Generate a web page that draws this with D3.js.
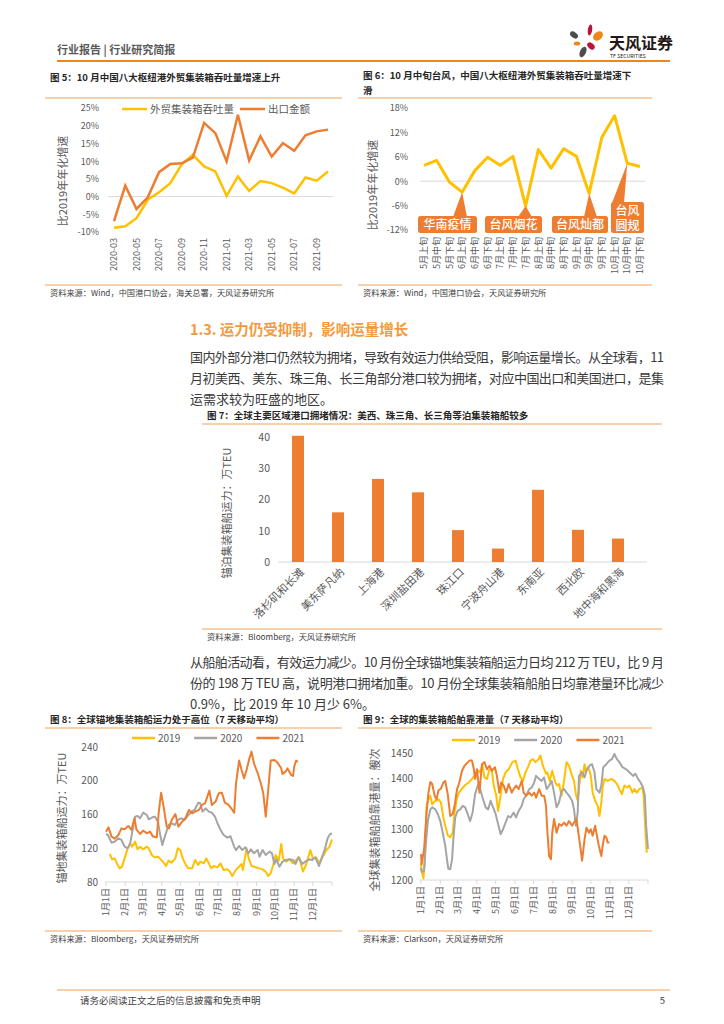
<!DOCTYPE html>
<html>
<head>
<meta charset="utf-8">
<script src="https://cdn.jsdelivr.net/npm/d3@7"></script>
<style>
body { margin: 0; background: #fff; }
svg { font-family: "Noto Sans CJK SC", "Noto Sans", sans-serif; }
.figTitle { font-size: 9.5px; font-weight: bold; fill: #262626; }
.source { font-size: 8.2px; fill: #404040; }
.rule { stroke: #F7C08F; stroke-width: 1.5; }
.axisText text, .axisText { font-size: 9px; fill: #595959; }
.big text { font-size: 10px; }
.yTitle { font-size: 11px; fill: #595959; }
.legend { font-size: 10px; fill: #595959; }
.body { font-size: 13px; fill: #3a3a3a; }
.note { font-size: 12px; fill: #fff; font-weight: 500; }
</style>
</head>
<body>
<svg id="page" width="724" height="1024"></svg>
<script>
// fig 5: monthly growth vs 2019 (%)
const fig5Months = ["2020-03", "2020-04", "2020-05", "2020-06", "2020-07", "2020-08", "2020-09", "2020-10", "2020-11", "2020-12",
    "2021-01", "2021-02", "2021-03", "2021-04", "2021-05", "2021-06", "2021-07", "2021-08", "2021-09", "2021-10"]
const fig5Throughput = [-8.8, -8.4, -6.1, -0.9, 1.2, 3.8, 9.0, 11.8, 8.5, 7.1, 0.2, 5.7, 1.6, 4.4, 3.8, 2.5, 0.9, 5.4, 4.5, 7.1]
const fig5Export = [-6.9, 3.1, -3.5, -0.2, 6.9, 9.2, 9.4, 11.0, 20.8, 17.9, 9.9, 23.1, 10.2, 17.0, 11.3, 15.1, 12.9, 17.3, 18.4, 18.9]
const fig5Ticks = [-10, -5, 0, 5, 10, 15, 20, 25]

// fig 6: ten-day growth vs 2019 (%)
const fig6Periods = ["5月上旬", "5月中旬", "5月下旬", "6月上旬", "6月中旬", "6月下旬", "7月上旬", "7月中旬", "7月下旬",
    "8月上旬", "8月中旬", "8月下旬", "9月上旬", "9月中旬", "9月下旬", "10月上旬", "10月中旬", "10月下旬"]
const fig6Growth = [3.9, 5.1, -0.2, -2.7, 2.6, 5.9, 3.9, 6.1, -6.1, 7.8, 3.2, 8.0, 6.1, -3.0, 10.8, 16.1, 4.4, 3.6]
const fig6Ticks = [-12, -6, 0, 6, 12, 18]
const fig6EventNames = [["华南疫情"], ["台风烟花"], ["台风灿都"], ["台风", "圆规"]]
const fig6EventPeriods = ["6月上旬", "7月下旬", "9月中旬", "10月中旬"]

// fig 7: anchored container ship capacity (万TEU)
const fig7Ports = ["洛杉矶和长滩", "美东萨凡纳", "上海港", "深圳盐田港", "珠江口", "宁波舟山港", "东南亚", "西北欧", "地中海和黑海"]
const fig7Capacity = [40.4, 15.9, 26.6, 22.3, 10.2, 4.3, 23.1, 10.3, 7.5]
const fig7Ticks = [0, 10, 20, 30, 40]

const monthStartDays = [0, 31, 59, 90, 120, 151, 181, 212, 243, 273, 304, 334]
const monthLabels = ["1月1日", "2月1日", "3月1日", "4月1日", "5月1日", "6月1日", "7月1日", "8月1日", "9月1日", "10月1日", "11月1日", "12月1日"]
const yearNames = ["2019", "2020", "2021"]

// fig 8: anchored capacity, 7-day avg (万TEU), day of year
const fig8Days2019 = [6, 10, 14, 18, 22, 26, 30, 35, 39, 42, 47, 51, 55, 60, 66, 69, 74, 78, 84, 87, 93, 97, 101, 106, 112, 116, 120, 124, 128, 133,
    139, 144, 149, 152, 158, 162, 166, 170, 174, 180, 185, 190, 196, 200, 204, 209, 215, 219, 221, 227, 230, 235, 242, 247, 253, 258, 262, 266, 270, 274,
    279, 283, 286, 291, 296, 302, 307, 312, 318, 323, 330, 334, 339, 345, 350, 356, 361, 365]
const fig8Vals2019 = [113.2, 106.9, 108, 101.3, 96.2, 98.2, 108, 119.9, 125.8, 121.9, 127.8, 118.7, 121.9, 118.7, 121.9, 119.9, 112, 109.2, 110, 108,
    102.9, 99, 105.3, 102.9, 108, 119.9, 117.9, 108, 101.3, 96.2, 96.2, 106.1, 100.2, 104.1, 102.2, 108, 102.2, 96.2, 99, 97.4,
    102.1, 94.2, 95, 92.3, 87.1, 93.4, 98.2, 101.3, 94.2, 119.9, 109.2, 99, 97.4, 96.2, 95, 92.3, 87.1, 90.3, 100.2, 112,
    105.3, 125.1, 108, 104.1, 106.9, 102.2, 106.1, 109.2, 92.3, 100.2, 117.9, 108, 109.2, 102.2, 110, 117.9, 121.9, 130.6]
const fig8Days2020 = [0, 3, 9, 14, 20, 25, 30, 35, 39, 42, 47, 51, 55, 60, 66, 69, 75, 79, 84, 87, 91, 95, 101, 106, 111, 116, 121, 127, 132, 138,
    143, 149, 152, 156, 161, 166, 171, 176, 180, 185, 190, 196, 201, 207, 210, 215, 220, 225, 230, 234, 239, 245, 248, 253, 258, 264, 268, 272, 275, 280,
    285, 291, 296, 302, 306, 311, 317, 322, 328, 333, 338, 344, 348, 353, 358, 362, 365]
const fig8Vals2020 = [136.9, 135.7, 126.6, 127.8, 131.8, 129.8, 121.9, 119.9, 125.8, 137.7, 157.5, 158.3, 155.5, 162.2, 159.4, 154.3, 156.7, 157.5, 151.5, 137.7,
    123.9, 133.8, 147.6, 149.6, 147.6, 153.5, 155.5, 153.5, 158.3, 163.4, 165.4, 174.1, 173.3, 163.4, 167.3, 163.4, 162.2, 157.5, 149.6, 141.7,
    135.7, 132.6, 134.2, 121.9, 117.9, 122.7, 117.9, 121.1, 114, 118.7, 114, 117.9, 110, 117.9, 112, 116, 114, 101.3, 106.9, 98.2,
    104.1, 106.1, 106.9, 106.1, 101.3, 109.2, 101.3, 104.1, 106.9, 106.1, 109.2, 99, 108, 117.9, 131.8, 136.9, 137.7]
const fig8Days2021 = [0, 4, 9, 14, 20, 25, 30, 36, 41, 46, 49, 55, 60, 66, 71, 76, 82, 85, 89, 93, 98, 102, 106, 112, 117, 123, 128, 134, 139, 144,
    150, 155, 160, 167, 171, 177, 182, 187, 192, 198, 204, 207, 210, 215, 219, 223, 227, 231, 235, 239, 245, 250, 254, 258, 262, 266, 272, 277, 283, 285,
    290, 293, 299, 302, 304, 307, 310]
const fig8Vals2021 = [139.7, 144.8, 133.8, 131.4, 135.7, 143.6, 142.5, 146.4, 141.7, 155.5, 142.5, 136.9, 140.9, 137.7, 139.7, 133.8, 133, 161.4, 185.9, 169.3,
    145.6, 143.6, 153.5, 160.6, 145.6, 151.5, 155.5, 165.4, 161.4, 163.4, 165.4, 171.3, 173.3, 188.3, 171.3, 175.3, 185.1, 185.9, 174.1, 171.3,
    165.4, 162.2, 197, 223.9, 212.8, 202.9, 212.8, 224.7, 234.5, 220.7, 208.9, 197, 185.1, 157.5, 189.1, 223.9, 224.7, 221.5, 214.8, 208.1,
    210.8, 214.8, 206.9, 205.7, 216.8, 223.9, 222.7]
const fig8Ticks = [80, 120, 160, 200, 240]

// fig 9: port calls, 7-day avg (艘次), day of year
const fig9Days2019 = [0, 1, 4, 6, 9, 12, 15, 18, 23, 28, 32, 36, 39, 43, 47, 51, 54, 58, 61, 66, 71, 77, 82, 87, 93, 95, 99, 102, 106, 110,
    114, 117, 121, 124, 128, 132, 136, 141, 147, 152, 156, 160, 164, 168, 173, 176, 180, 184, 189, 192, 196, 201, 203, 207, 211, 216, 219, 222, 226, 230,
    234, 238, 243, 246, 249, 252, 254, 257, 260, 263, 265, 268, 271, 273, 276, 280, 284, 287, 290, 292, 295, 300, 306, 311, 315, 319, 323, 327, 331, 335,
    340, 343, 347, 351, 356, 358, 361, 363]
const fig9Vals2019 = [1234, 1218, 1203, 1241, 1346, 1359, 1366, 1349, 1356, 1359, 1353, 1323, 1307, 1288, 1284, 1293, 1333, 1362, 1372, 1380,
    1387, 1392, 1399, 1407, 1415, 1412, 1425, 1402, 1399, 1418, 1415, 1386, 1366, 1336, 1366, 1399, 1412, 1418, 1432, 1435,
    1418, 1402, 1395, 1412, 1425, 1435, 1438, 1432, 1438, 1445, 1425, 1409, 1412, 1395, 1415, 1392, 1386, 1389, 1366, 1395,
    1432, 1425, 1405, 1395, 1369, 1356, 1379, 1415, 1402, 1428, 1412, 1422, 1415, 1405, 1372, 1356, 1346, 1326, 1353, 1382,
    1399, 1395, 1399, 1395, 1389, 1379, 1369, 1386, 1382, 1386, 1372, 1379, 1372, 1379, 1382, 1366, 1293, 1254]
const fig9Days2020 = [0, 1, 5, 8, 11, 15, 18, 23, 27, 31, 35, 39, 42, 44, 47, 50, 52, 55, 59, 63, 67, 71, 75, 79, 83, 87, 92, 95, 99, 104,
    108, 112, 115, 120, 124, 128, 132, 136, 140, 144, 149, 153, 157, 162, 165, 169, 174, 178, 182, 185, 190, 194, 198, 202, 206, 210, 214, 218, 222, 226,
    230, 234, 238, 243, 246, 249, 252, 254, 259, 263, 266, 271, 275, 279, 282, 287, 290, 293, 298, 303, 307, 311, 315, 319, 324, 330, 335, 341, 345, 349,
    353, 357, 360, 362, 365]
const fig9Vals2020 = [1224, 1216, 1218, 1274, 1316, 1339, 1343, 1339, 1330, 1316, 1293, 1267, 1238, 1222, 1221, 1241, 1280, 1323, 1336, 1339,
    1346, 1343, 1330, 1316, 1333, 1369, 1389, 1379, 1362, 1343, 1339, 1356, 1346, 1330, 1310, 1290, 1300, 1313, 1326, 1323,
    1333, 1323, 1336, 1346, 1359, 1366, 1379, 1382, 1392, 1405, 1399, 1395, 1402, 1379, 1386, 1395, 1372, 1343, 1353, 1375,
    1379, 1372, 1366, 1356, 1339, 1307, 1333, 1405, 1412, 1402, 1415, 1425, 1428, 1412, 1379, 1372, 1386, 1422, 1428, 1435,
    1438, 1448, 1438, 1432, 1422, 1418, 1412, 1405, 1409, 1399, 1392, 1382, 1366, 1307, 1261]
const fig9Days2021 = [0, 1, 5, 9, 12, 15, 18, 22, 25, 28, 32, 36, 39, 43, 47, 51, 54, 58, 61, 66, 70, 74, 78, 82, 85, 87, 90, 94, 98, 102,
    106, 110, 114, 119, 122, 126, 129, 133, 137, 141, 146, 149, 153, 157, 162, 165, 169, 174, 178, 182, 185, 190, 194, 198, 201, 203, 206, 209, 211, 214,
    218, 222, 226, 230, 234, 238, 243, 246, 250, 253, 256, 259, 263, 266, 270, 273, 276, 280, 282, 286, 290, 292, 295, 298, 300, 303]
const fig9Vals2021 = [1251, 1231, 1261, 1333, 1372, 1393, 1389, 1366, 1359, 1376, 1380, 1392, 1395, 1369, 1326, 1330, 1346, 1379, 1389, 1415,
    1425, 1430, 1435, 1435, 1418, 1399, 1418, 1372, 1428, 1432, 1418, 1425, 1415, 1422, 1405, 1372, 1392, 1386, 1372, 1389,
    1372, 1379, 1386, 1379, 1395, 1372, 1366, 1372, 1366, 1372, 1362, 1379, 1366, 1366, 1346, 1300, 1247, 1241, 1293, 1320,
    1293, 1310, 1307, 1313, 1307, 1316, 1307, 1313, 1320, 1293, 1267, 1238, 1280, 1303, 1293, 1300, 1287, 1307, 1293, 1267,
    1247, 1267, 1287, 1284, 1274, 1274]
const fig9Ticks = [1200, 1250, 1300, 1350, 1400, 1450]

const yellow = "#FFC000", grey = "#A5A5A5", orange = "#ED7D31"
const svg = d3.select("#page")

function frame(f) {
    f.titles.forEach((t, i) => svg.append("text").attr("class", "figTitle").attr("x", f.tx).attr("y", f.ty + i * 15).text(t))
    svg.append("line").attr("class", "rule").attr("x1", f.x0).attr("x2", f.x1).attr("y1", f.top).attr("y2", f.top)
    svg.append("line").attr("class", "rule").attr("x1", f.x0).attr("x2", f.x1).attr("y1", f.bottom).attr("y2", f.bottom)
    svg.append("text").attr("class", "source").attr("x", f.tx).attr("y", f.bottom + 10.5).text(f.source)
}

function yAxis(scale, ticks, x, fmt, big) {
    const g = svg.append("g")
        .attr("class", big ? "axisText big" : "axisText")
        .attr("transform", `translate(${x},0)`)
        .call(d3.axisLeft(scale).tickValues(ticks).tickSize(0).tickPadding(0).tickFormat(fmt))
    g.select(".domain").remove()
    g.attr("font-family", null).attr("font-size", null)
}

function yTitle(text, x, y) {
    svg.append("text").attr("class", "yTitle")
        .attr("transform", `translate(${x},${y}) rotate(-90)`)
        .attr("text-anchor", "middle").attr("dy", "0.35em").text(text)
}

function vLabels(items, xf, y) {
    svg.append("g").attr("class", "axisText").selectAll("text").data(items).join("text")
        .attr("transform", (d, i) => `translate(${xf(d, i)},${y}) rotate(-90)`)
        .attr("text-anchor", "end").attr("dy", "0.35em")
        .text(d => d)
}

function legend(items, x0, y, gap, lineW) {
    let x = x0
    items.forEach(it => {
        svg.append("line").attr("x1", x).attr("x2", x + lineW).attr("y1", y).attr("y2", y)
            .attr("stroke", it.color).attr("stroke-width", 2.5)
        const t = svg.append("text").attr("class", "legend").attr("x", x + lineW + 3).attr("y", y).attr("dy", "0.35em").text(it.name)
        x += lineW + 3 + t.node().getComputedTextLength() + gap
    })
}

// ---------- page header ----------
svg.append("text").attr("x", 57).attr("y", 54).attr("font-size", 11).attr("font-weight", "bold").attr("fill", "#595959").text("行业报告 | 行业研究简报")
svg.append("line").attr("x1", 57).attr("x2", 670).attr("y1", 61).attr("y2", 61).attr("stroke", "#F08519").attr("stroke-width", 1.8)
const logo = svg.append("g")
const petals = [
    { cx: 590, cy: 30, rx: 2.2, ry: 5.5, r: 8, c: "#B7153B" },
    { cx: 598, cy: 36, rx: 5.5, ry: 4, r: -40, c: "#F08519" },
    { cx: 574, cy: 35, rx: 4.5, ry: 2.8, r: 35, c: "#4D4D4D" },
    { cx: 577, cy: 43.5, rx: 3.2, ry: 2, r: 0, c: "#F08519" },
    { cx: 591, cy: 46, rx: 4.2, ry: 2.8, r: 40, c: "#B7153B" },
    { cx: 583, cy: 52, rx: 3, ry: 5.5, r: 25, c: "#4D4D4D" }
]
logo.selectAll("ellipse").data(petals).join("ellipse")
    .attr("transform", d => `translate(${d.cx},${d.cy}) rotate(${d.r})`)
    .attr("rx", d => d.rx).attr("ry", d => d.ry).attr("fill", d => d.c)
logo.append("text").attr("x", 609).attr("y", 49).attr("font-size", 16).attr("font-weight", "bold").attr("fill", "#231815").text("天风证券")
logo.append("text").attr("x", 610).attr("y", 58).attr("font-size", 5.2).attr("fill", "#231815").text("TF SECURITIES")

// ---------- fig 5 ----------
frame({ titles: ["图 5：10 月中国八大枢纽港外贸集装箱吞吐量增速上升"], tx: 50, ty: 81, x0: 45, x1: 342, top: 98, bottom: 285,
    source: "资料来源：Wind，中国港口协会，海关总署，天风证券研究所" })
const x5 = d3.scalePoint().domain(fig5Months).range([114, 328])
const y5 = d3.scaleLinear().domain([-10, 25]).range([232, 108])
svg.append("line").attr("x1", 108).attr("x2", 333).attr("y1", y5(0)).attr("y2", y5(0)).attr("stroke", "#D9D9D9")
yAxis(y5, fig5Ticks, 99, d => d + "%")
yTitle("比2019年年化增速", 63, 181)
vLabels(fig5Months.filter((d, i) => i % 2 == 0), d => x5(d), 238)
const line5 = d3.line().x((d, i) => x5(fig5Months[i])).y(d => y5(d))
svg.append("path").attr("d", line5(fig5Throughput)).attr("fill", "none").attr("stroke", yellow).attr("stroke-width", 2.5)
svg.append("path").attr("d", line5(fig5Export)).attr("fill", "none").attr("stroke", orange).attr("stroke-width", 2.5)
legend([{ name: "外贸集装箱吞吐量", color: yellow }, { name: "出口金额", color: orange }], 122, 109, 10, 25)
svg.selectAll(".legend").style("font-size", "10.5px")

// ---------- fig 6 ----------
frame({ titles: ["图 6：10 月中旬台风，中国八大枢纽港外贸集装箱吞吐量增速下", "滑"], tx: 363, ty: 79, x0: 358, x1: 652, top: 98, bottom: 285,
    source: "资料来源：Wind，中国港口协会，天风证券研究所" })
const x6 = d3.scalePoint().domain(fig6Periods).range([424, 640])
const y6 = d3.scaleLinear().domain([-12, 18]).range([230, 108])
svg.append("line").attr("x1", 420).attr("x2", 645).attr("y1", y6(0)).attr("y2", y6(0)).attr("stroke", "#D9D9D9")
yAxis(y6, fig6Ticks, 408, d => d + "%")
yTitle("比2019年年化增速", 373, 185)
vLabels(fig6Periods, d => x6(d), 237)
svg.append("path").attr("d", d3.line().x((d, i) => x6(fig6Periods[i])).y(d => y6(d))(fig6Growth))
    .attr("fill", "none").attr("stroke", yellow).attr("stroke-width", 3).attr("stroke-linejoin", "round")
const noteBoxes = [
    { x: 418, y: 216, w: 59, h: 17, b0: 453, b1: 467 },
    { x: 485, y: 216, w: 57, h: 17, b0: 518, b1: 532 },
    { x: 552, y: 216, w: 56, h: 17, b0: 584, b1: 597 },
    { x: 611, y: 202, w: 33, h: 31, b0: 612, b1: 624 }
]
noteBoxes.forEach((b, i) => {
    const p = fig6EventPeriods[i]
    const px = x6(p), py = y6(fig6Growth[fig6Periods.indexOf(p)])
    svg.append("path").attr("d", `M${b.b0},${b.y + 1}L${px},${py}L${b.b1},${b.y + 1}Z`).attr("fill", orange)
    svg.append("rect").attr("x", b.x).attr("y", b.y).attr("width", b.w).attr("height", b.h).attr("rx", 2.5).attr("fill", orange)
    fig6EventNames[i].forEach((t, j) => svg.append("text").attr("class", "note")
        .attr("x", b.x + b.w / 2).attr("y", b.y + 12.8 + j * 15).attr("text-anchor", "middle").text(t))
})

// ---------- section text ----------
svg.append("text").attr("x", 190).attr("y", 335).attr("font-size", 14.5).attr("font-weight", "bold").attr("fill", "#F39A3C").text("1.3. 运力仍受抑制，影响运量增长")
const para1 = ["国内外部分港口仍然较为拥堵，导致有效运力供给受阻，影响运量增长。从全球看，11",
    "月初美西、美东、珠三角、长三角部分港口较为拥堵，对应中国出口和美国进口，是集",
    "运需求较为旺盛的地区。"]
const para2 = ["从船舶活动看，有效运力减少。10 月份全球锚地集装箱船运力日均 212 万 TEU，比 9 月",
    "份的 198 万 TEU 高，说明港口拥堵加重。10 月份全球集装箱船舶日均靠港量环比减少",
    "0.9%，比 2019 年 10 月少 6%。"]
function paragraph(lines, y0) {
    lines.forEach((t, i) => {
        const el = svg.append("text").attr("class", "body").attr("x", 190).attr("y", y0 + i * 21).text(t)
        if (i < lines.length - 1) el.attr("textLength", 474).attr("lengthAdjust", "spacing")
    })
}
paragraph(para1, 362)
paragraph(para2, 667)

// ---------- fig 7 ----------
frame({ titles: ["图 7：全球主要区域港口拥堵情况：美西、珠三角、长三角等泊集装箱船较多"], tx: 207, ty: 419, x0: 202, x1: 662, top: 424, bottom: 629,
    source: "资料来源：Bloomberg，天风证券研究所" })
const x7 = d3.scaleBand().domain(fig7Ports).range([278, 638]).paddingInner(0.7).paddingOuter(0.35)
const y7 = d3.scaleLinear().domain([0, 40]).range([562, 437])
yAxis(y7, fig7Ticks, 270, d => d, true)
svg.selectAll(".big text").style("font-size", "10.5px")
svg.append("line").attr("x1", 278).attr("x2", 647).attr("y1", y7(0)).attr("y2", y7(0)).attr("stroke", "#D9D9D9")
svg.append("g").selectAll("rect").data(fig7Ports).join("rect")
    .attr("x", d => x7(d)).attr("width", x7.bandwidth())
    .attr("y", (d, i) => y7(fig7Capacity[i])).attr("height", (d, i) => y7(0) - y7(fig7Capacity[i]))
    .attr("fill", orange)
svg.append("g").attr("class", "axisText").selectAll("text").data(fig7Ports).join("text")
    .attr("transform", d => `translate(${x7(d) + x7.bandwidth() / 2 + 4},${y7(0) + 8}) rotate(-45)`)
    .attr("text-anchor", "end").attr("dy", "0.35em").style("font-size", "11px").text(d => d)
yTitle("锚泊集装箱船运力：万TEU", 227, 513)

// ---------- fig 8 / fig 9 ----------
function yearChart(c) {
    frame(c.frame)
    const x = d3.scaleLinear().domain([0, 365]).range(c.xr)
    const y = d3.scaleLinear().domain(c.yd).range(c.yr)
    yAxis(y, c.ticks, c.xr[0] - 8, d => d, true)
    const base = c.yr[0]
    svg.append("line").attr("x1", c.xr[0] - 1).attr("x2", c.xr[1]).attr("y1", base).attr("y2", base).attr("stroke", "#D9D9D9")
    svg.append("g").selectAll("line").data(monthStartDays.concat([365])).join("line")
        .attr("x1", d => x(d)).attr("x2", d => x(d)).attr("y1", base).attr("y2", base + 4).attr("stroke", "#D9D9D9")
    vLabels(monthLabels, (d, i) => x(monthStartDays[i]), base + 6)
    const line = d3.line().x(d => x(d[0])).y(d => y(d[1]))
    c.series.forEach(s => svg.append("path").attr("d", line(d3.zip(s.days, s.vals)))
        .attr("fill", "none").attr("stroke", s.color).attr("stroke-width", 2).attr("stroke-linejoin", "round"))
    legend(c.series.map(s => ({ name: s.name, color: s.color })), c.legendX, c.legendY, 14, 23)
    yTitle(c.title, c.titleX, c.titleY)
}

yearChart({
    frame: { titles: ["图 8：全球锚地集装箱船运力处于高位（7 天移动平均）"], tx: 50, ty: 723, x0: 45, x1: 342, top: 728, bottom: 931,
        source: "资料来源：Bloomberg，天风证券研究所" },
    xr: [106, 332], yd: [80, 240], yr: [882, 747], ticks: fig8Ticks,
    series: [
        { name: yearNames[0], color: yellow, days: fig8Days2019, vals: fig8Vals2019 },
        { name: yearNames[1], color: grey, days: fig8Days2020, vals: fig8Vals2020 },
        { name: yearNames[2], color: orange, days: fig8Days2021, vals: fig8Vals2021 }
    ],
    legendX: 132, legendY: 738, title: "锚地集装箱船运力：万TEU", titleX: 62, titleY: 818
})

yearChart({
    frame: { titles: ["图 9：全球的集装箱船舶靠港量（7 天移动平均）"], tx: 363, ty: 723, x0: 358, x1: 652, top: 728, bottom: 931,
        source: "资料来源：Clarkson，天风证券研究所" },
    xr: [421, 648], yd: [1200, 1450], yr: [880, 753], ticks: fig9Ticks,
    series: [
        { name: yearNames[0], color: yellow, days: fig9Days2019, vals: fig9Vals2019 },
        { name: yearNames[1], color: grey, days: fig9Days2020, vals: fig9Vals2020 },
        { name: yearNames[2], color: orange, days: fig9Days2021, vals: fig9Vals2021 }
    ],
    legendX: 452, legendY: 740, title: "全球集装箱船舶靠港量：艘次", titleX: 375, titleY: 820
})

// ---------- footer ----------
svg.append("line").attr("x1", 57).attr("x2", 670).attr("y1", 990).attr("y2", 990).attr("stroke", "#F7C08F").attr("stroke-width", 1.5)
svg.append("text").attr("x", 80).attr("y", 1004).attr("font-size", 9.5).attr("fill", "#404040").text("请务必阅读正文之后的信息披露和免责申明")
svg.append("text").attr("x", 665).attr("y", 1004).attr("font-size", 9.5).attr("fill", "#404040").attr("text-anchor", "end").text("5")
</script>
</body>
</html>
